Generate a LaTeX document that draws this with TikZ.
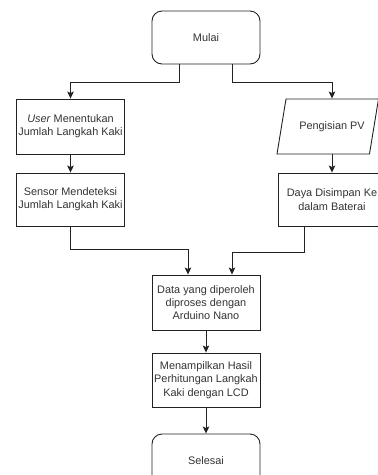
\documentclass[tikz,border=0pt]{standalone}
\usepackage{fontspec}
\setmainfont{Liberation Sans}
\usetikzlibrary{arrows.meta,calc}
\definecolor{txt}{HTML}{333333}
\definecolor{ln}{HTML}{222222}
\begin{document}
\begin{tikzpicture}[x=1pt,y=-1pt,
  box/.style={draw=ln,line width=0.9pt,minimum width=108pt,align=center,inner sep=1pt,
    font=\fontsize{10.9}{13.3}\selectfont,text=txt},
  term/.style={box,rounded corners=10pt},
  arr/.style={draw=ln,line width=0.9pt,-{Stealth[length=7pt,width=6.5pt,inset=1.5pt]}}]
\useasboundingbox (0,0) rectangle (378,475);
\node[term,minimum height=53pt] (mulai) at (206,37.5) {Mulai};
\node[box,minimum height=55pt] (user) at (70.5,126.5) {\textit{User} Menentukan\\Jumlah Langkah Kaki};
\node[box,draw=none,minimum height=55pt] (pv) at (332,126.5) {Pengisian PV};
\draw[ln,line width=0.9pt] (286,99) -- (378.5,99) -- (369.5,154) -- (277,154) -- cycle;
\node[box,minimum height=53pt] (sensor) at (70.5,199.5) {Sensor Mendeteksi\\Jumlah Langkah Kaki};
\node[box,minimum height=53pt] (daya) at (332,199.5) {Daya Disimpan Ke\\dalam Baterai};
\node[box,minimum height=55pt] (data) at (206,302.5) {Data yang diperoleh\\diproses dengan\\Arduino Nano};
\node[box,minimum height=54pt] (tampil) at (206,380) {Menampilkan Hasil\\Perhitungan Langkah\\Kaki dengan LCD};
\node[term,minimum height=53pt] (selesai) at (206,460.5) {Selesai};
\draw[arr] ([xshift=-27pt]mulai.south) -- ++(0,18) -| (user.north);
\draw[arr] ([xshift=26pt]mulai.south) -- ++(0,18) -| (pv.north);
\draw[arr] (user) -- (sensor);
\draw[arr] (pv) -- (daya);
\draw[arr] (sensor.south) -- ++(0,23) -| ([xshift=-18pt]data.north);
\draw[arr] ([xshift=-28pt]daya.south) -- ++(0,26) -| ([xshift=26pt]data.north);
\draw[arr] (data) -- (tampil);
\draw[arr] (tampil) -- (selesai);
\end{tikzpicture}
\end{document}
